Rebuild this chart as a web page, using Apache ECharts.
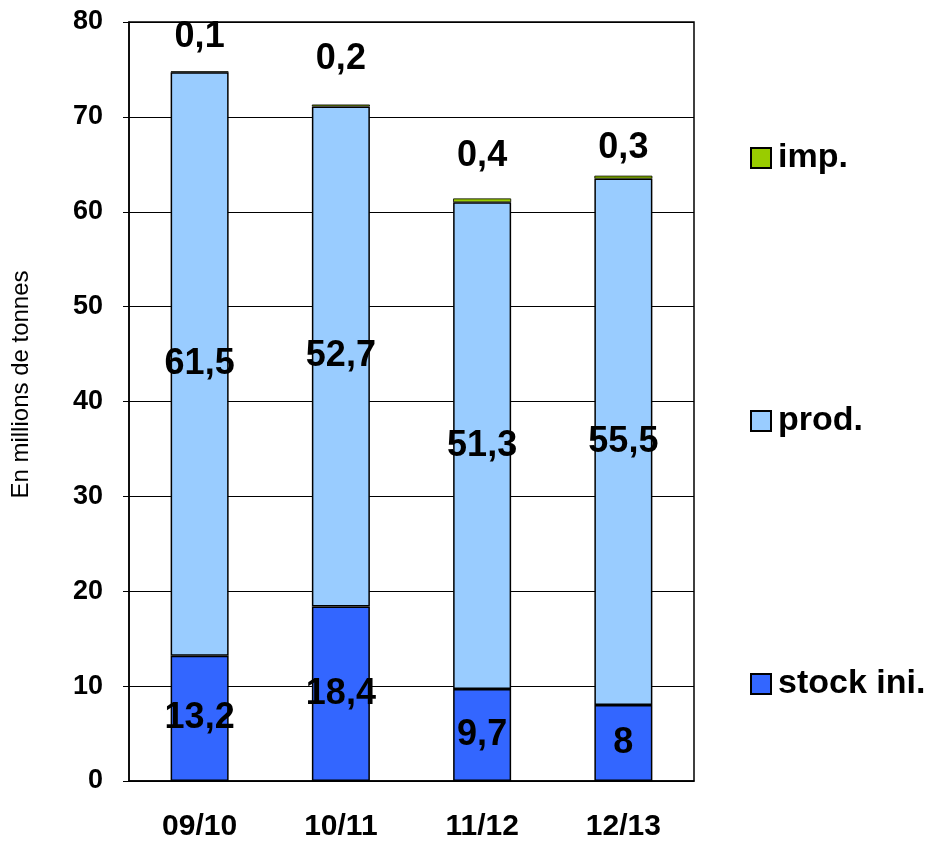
<!DOCTYPE html>
<html>
<head>
<meta charset="utf-8">
<script src="https://cdn.jsdelivr.net/npm/echarts@6/dist/echarts.min.js"></script>
<style>
  html, body { margin: 0; padding: 0; background: #fff; }
  #chart { width: 934px; height: 845px; }
</style>
</head>
<body>
<div id="chart"></div>
<script>
  // campagnes
  var campagnes = ["09/10", "10/11", "11/12", "12/13"];
  // valeurs (millions de tonnes)
  var stockIni = [13.2, 18.4, 9.7, 8];
  var prod = [61.5, 52.7, 51.3, 55.5];
  var imp = [0.1, 0.2, 0.4, 0.3];
  var yTicks = [0, 10, 20, 30, 40, 50, 60, 70, 80];

  var FONT = "Liberation Sans, Arial, sans-serif";
  // distance du libellé imp. au sommet de la barre (placés à la main dans l'original)
  var impLabelGap = [16, 27, 24, 10];

  function virgule(p) {
    return String(p.value).replace(".", ",");
  }

  var myChart = echarts.init(document.getElementById("chart"));

  var barStyle = { borderColor: "#000", borderWidth: 1.5 };
  var labelStyle = {
    show: true,
    color: "#000",
    fontFamily: FONT,
    fontWeight: "bold",
    fontSize: 36,
    formatter: virgule
  };

  var option = {
    animation: false,
    grid: {
      left: 129,
      right: 240,
      top: 22,
      bottom: 64,
      show: true,
      borderColor: "#000",
      borderWidth: 1.5
    },
    legend: {
      orient: "vertical",
      left: 745,
      top: 135,
      itemGap: 227,
      itemWidth: 20,
      itemHeight: 20,
      icon: "rect",
      data: ["imp.", "prod.", "stock ini."],
      textStyle: {
        color: "#000",
        fontFamily: FONT,
        fontWeight: "bold",
        fontSize: 34,
        lineHeight: 36,
        padding: [0, 0, 0, 2]
      }
    },
    xAxis: {
      type: "category",
      data: campagnes,
      axisLine: { lineStyle: { color: "#000", width: 1.5 } },
      axisTick: { show: false },
      axisLabel: {
        color: "#000",
        fontFamily: FONT,
        fontWeight: "bold",
        fontSize: 30,
        margin: 31
      }
    },
    yAxis: {
      type: "value",
      min: yTicks[0],
      max: yTicks[yTicks.length - 1],
      interval: 10,
      name: "En millions de tonnes",
      nameLocation: "middle",
      nameGap: 96,
      nameTextStyle: {
        color: "#000",
        fontFamily: FONT,
        fontSize: 24,
        padding: [0, 0, 0, 34]
      },
      axisLine: { show: true, lineStyle: { color: "#000", width: 1.5 } },
      axisTick: { show: true, length: 6, lineStyle: { color: "#000" } },
      splitLine: { lineStyle: { color: "#000", width: 1.2 } },
      axisLabel: {
        color: "#000",
        fontFamily: FONT,
        fontWeight: "bold",
        fontSize: 27,
        margin: 26
      }
    },
    series: [
      {
        name: "stock ini.",
        type: "bar",
        stack: "total",
        barWidth: 58,
        data: stockIni,
        itemStyle: Object.assign({ color: "#3366FF" }, barStyle),
        label: Object.assign({ position: "inside" }, labelStyle)
      },
      {
        name: "prod.",
        type: "bar",
        stack: "total",
        data: prod,
        itemStyle: Object.assign({ color: "#99CCFF" }, barStyle),
        label: Object.assign({ position: "inside" }, labelStyle)
      },
      {
        name: "imp.",
        type: "bar",
        stack: "total",
        data: imp.map(function (v, i) {
          return { value: v, label: { distance: impLabelGap[i] } };
        }),
        itemStyle: { color: "#99CC00", borderColor: "#000", borderWidth: 0.8 },
        label: Object.assign({ position: "top" }, labelStyle)
      }
    ]
  };

  myChart.setOption(option);
</script>
</body>
</html>
